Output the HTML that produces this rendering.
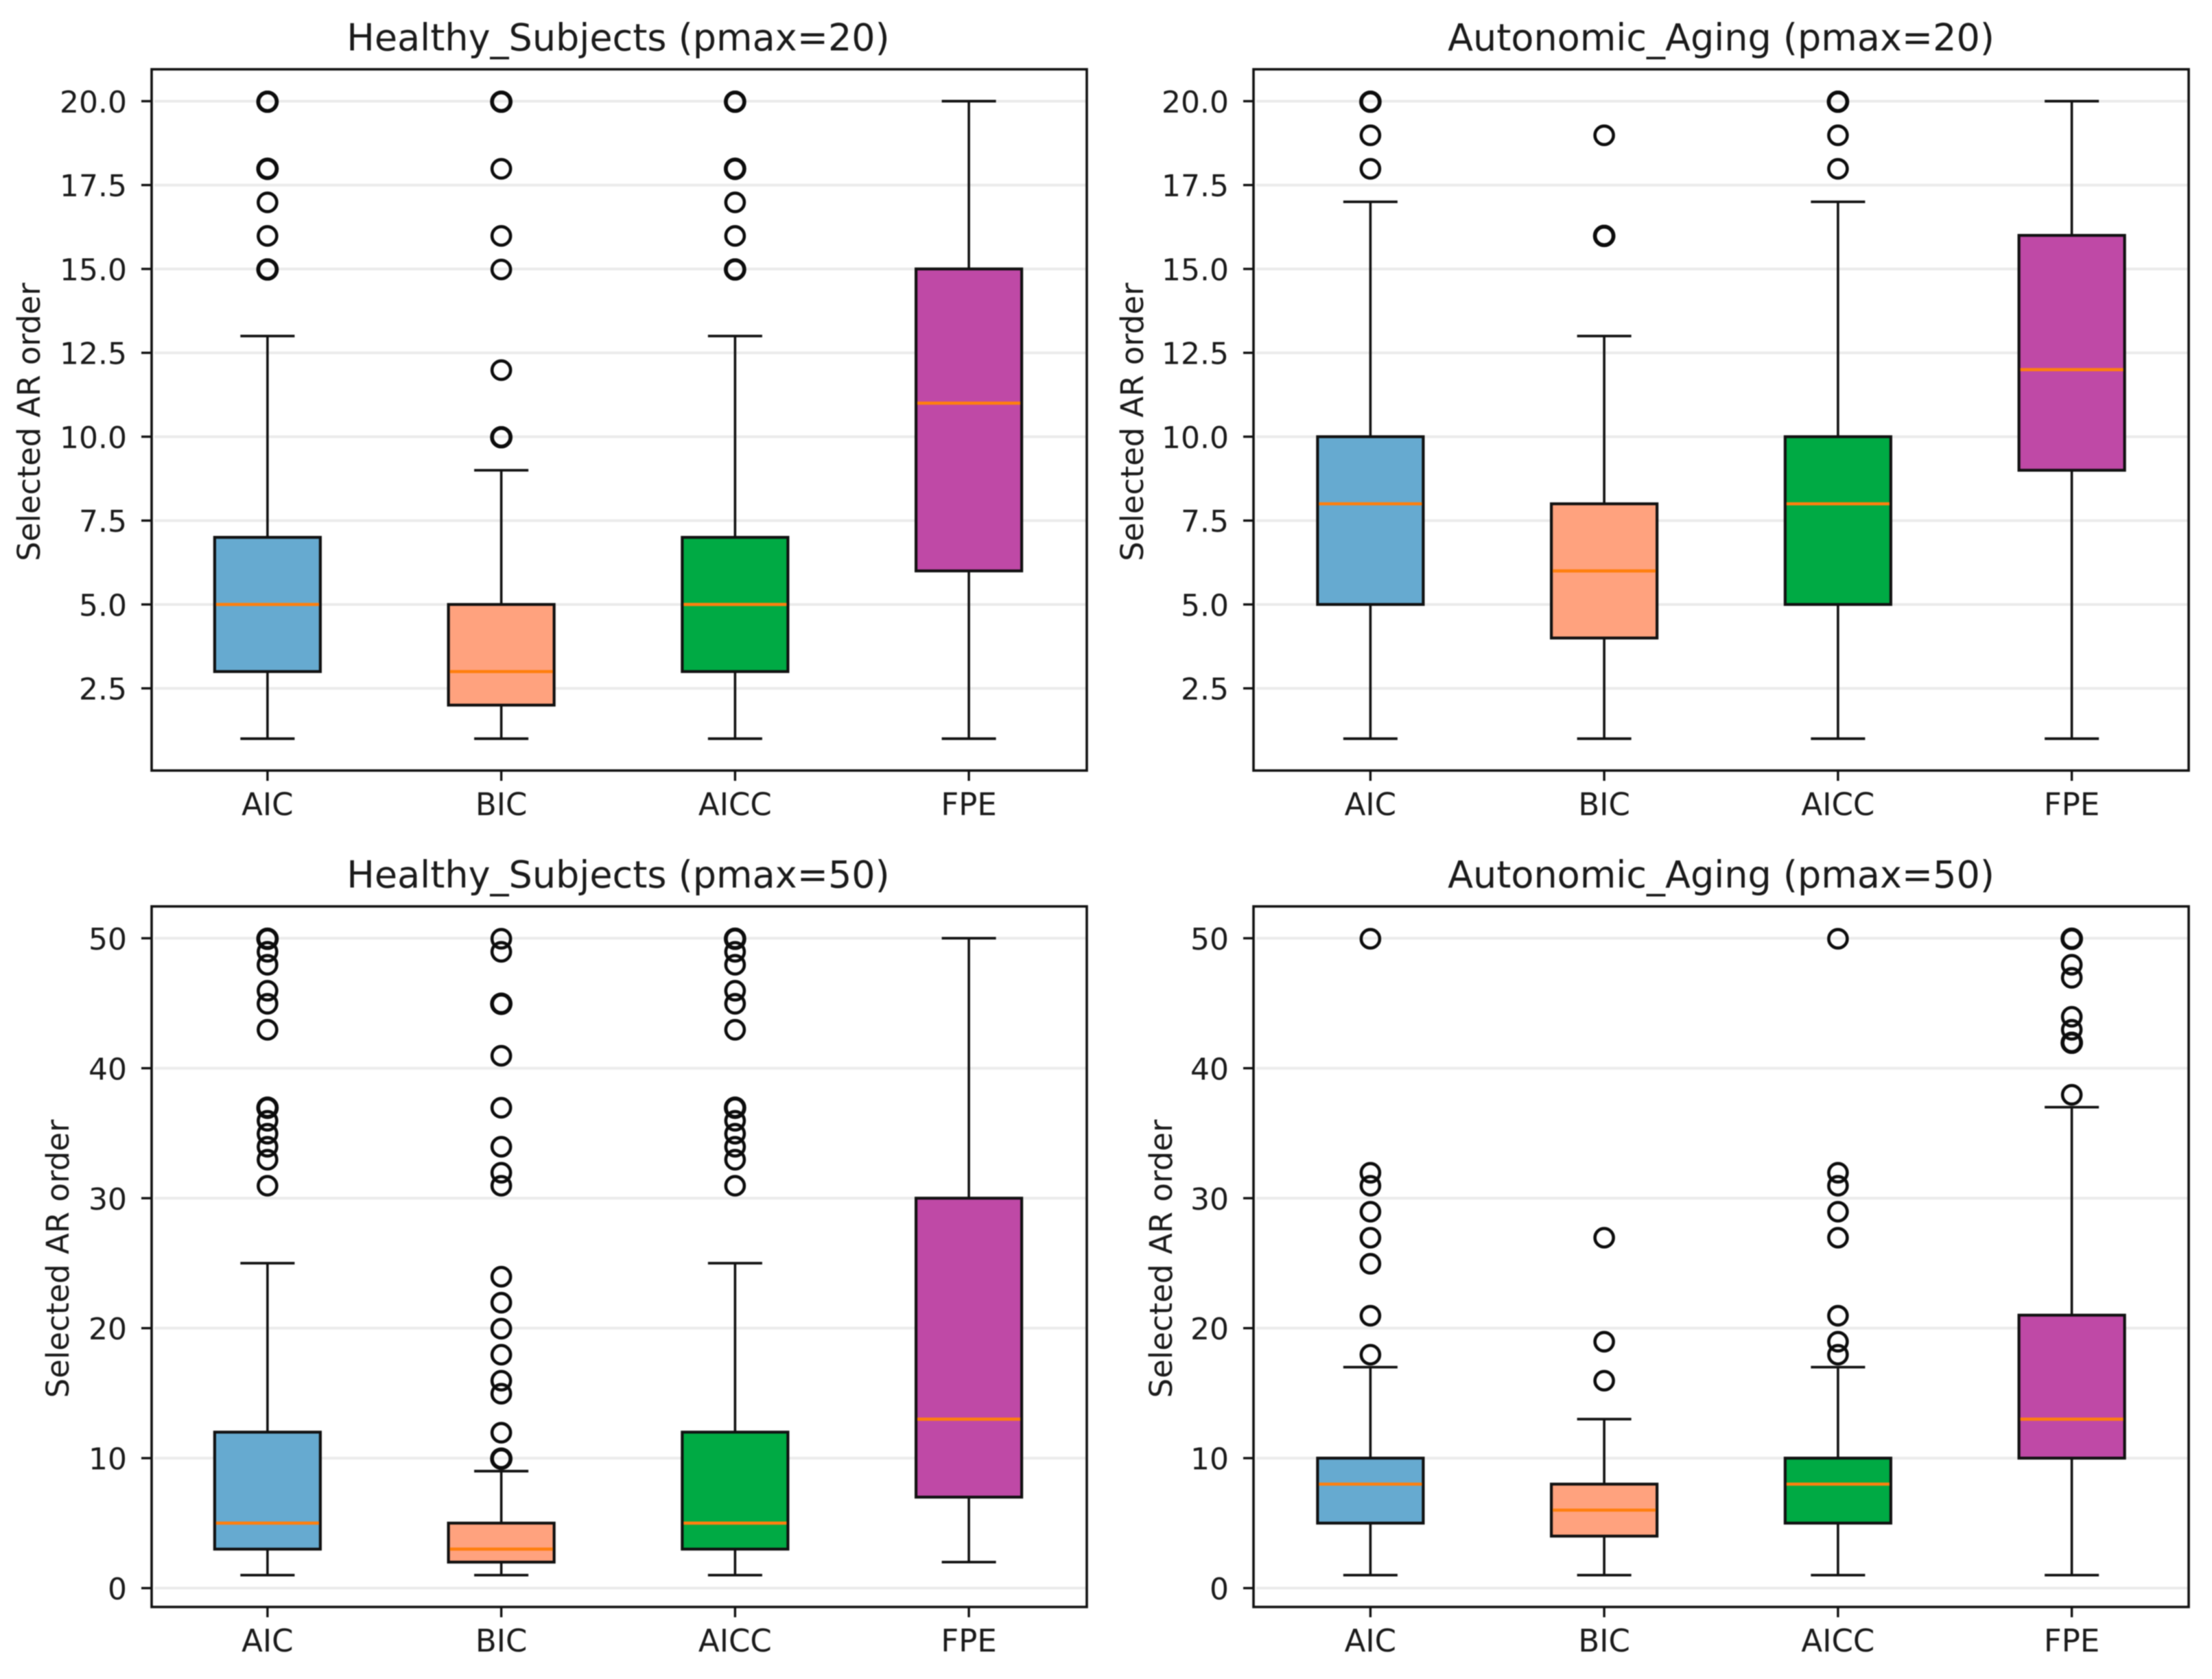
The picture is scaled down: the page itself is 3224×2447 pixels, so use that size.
<!DOCTYPE html>
<html lang="en">
<head>
<meta charset="utf-8">
<title>Selected AR order box plots</title>
<style>
html,body{margin:0;padding:0;background:#fff;}
svg{display:block;filter:blur(0.9px);}
text{font-family:"DejaVu Sans","Liberation Sans",sans-serif;fill:#1a1a1a;}
</style>
</head>
<body>
<svg id="chart" xmlns="http://www.w3.org/2000/svg" width="3224" height="2447" viewBox="0 0 3224 2447"></svg>
<script>
const categories = ['AIC', 'BIC', 'AICC', 'FPE'];
const boxColors = ['#66aad0', '#ffa27e', '#00aa44', '#bf49a6'];

const ticks20 = [2.5, 5, 7.5, 10, 12.5, 15, 17.5, 20];
const tickLabels20 = ['2.5', '5.0', '7.5', '10.0', '12.5', '15.0', '17.5', '20.0'];
const ticks50 = [0, 10, 20, 30, 40, 50];
const tickLabels50 = ['0', '10', '20', '30', '40', '50'];

const hs20Low = [1, 1, 1, 1];
const hs20Q1 = [3, 2, 3, 6];
const hs20Median = [5, 3, 5, 11];
const hs20Q3 = [7, 5, 7, 15];
const hs20High = [13, 9, 13, 20];
const hs20Fliers = [
  [15, 15, 16, 17, 18, 18, 20, 20],
  [10, 10, 12, 15, 16, 18, 20, 20],
  [15, 15, 16, 17, 18, 18, 20, 20],
  []
];

const aa20Low = [1, 1, 1, 1];
const aa20Q1 = [5, 4, 5, 9];
const aa20Median = [8, 6, 8, 12];
const aa20Q3 = [10, 8, 10, 16];
const aa20High = [17, 13, 17, 20];
const aa20Fliers = [
  [18, 19, 20, 20],
  [16, 16, 19],
  [18, 19, 20, 20],
  []
];

const hs50Low = [1, 1, 1, 2];
const hs50Q1 = [3, 2, 3, 7];
const hs50Median = [5, 3, 5, 13];
const hs50Q3 = [12, 5, 12, 30];
const hs50High = [25, 9, 25, 50];
const hs50Fliers = [
  [31, 33, 34, 35, 36, 37, 37, 43, 45, 46, 48, 49, 50, 50],
  [10, 10, 12, 15, 16, 18, 20, 22, 24, 31, 32, 34, 37, 41, 45, 45, 49, 50],
  [31, 33, 34, 35, 36, 37, 37, 43, 45, 46, 48, 49, 50, 50],
  []
];

const aa50Low = [1, 1, 1, 1];
const aa50Q1 = [5, 4, 5, 10];
const aa50Median = [8, 6, 8, 13];
const aa50Q3 = [10, 8, 10, 21];
const aa50High = [17, 13, 17, 37];
const aa50Fliers = [
  [18, 21, 25, 27, 29, 31, 32, 50],
  [16, 19, 27],
  [18, 19, 21, 27, 29, 31, 32, 50],
  [38, 42, 42, 43, 44, 47, 48, 50, 50]
];

const SVG_NS = 'http://www.w3.org/2000/svg';
const root = document.getElementById('chart');
const INK = '#111111';

function make(tag, parent, attrs) {
  const el = document.createElementNS(SVG_NS, tag);
  Object.keys(attrs).forEach(function (k) { el.setAttribute(k, attrs[k]); });
  parent.appendChild(el);
  return el;
}

function line(parent, name, x1, y1, x2, y2, color, width) {
  const el = make('line', parent, { x1: x1, y1: y1, x2: x2, y2: y2, stroke: color, 'stroke-width': width });
  
  
  return el;
}

function label(parent, name, content, x, y, size, anchor, rotate) {
  const el = make('text', parent, { x: x, y: y, 'font-size': size, 'text-anchor': anchor });
  if (rotate) el.setAttribute('transform', 'rotate(-90 ' + x + ' ' + y + ')');
  el.textContent = content;
  
  
  return el;
}

function drawPanel(p) {
  const g = make('g', root, {});
  
  

  const yScale = function (v) {
    return p.bottom - (v - p.domain[0]) / (p.domain[1] - p.domain[0]) * (p.bottom - p.top);
  };
  const xScale = function (i) {
    return p.left + (i + 0.5) / categories.length * (p.right - p.left) + p.shift;
  };
  const unit = (p.right - p.left) / categories.length;

  p.ticks.forEach(function (t, i) {
    const y = yScale(t);
    line(g, 'y-gridline-' + p.tickLabels[i], p.left + 4, y, p.right - 2, y, '#ebebeb', 4);
    line(g, 'y-tick-' + p.tickLabels[i], p.left - 15, y, p.left, y, INK, 3.4);
    label(g, 'y-tick-label-' + p.tickLabels[i], p.tickLabels[i], p.left - 36, y + 16.5, 44, 'end');
  });

  categories.forEach(function (cat, i) {
    const cx = xScale(i);
    const boxW = unit * 0.452;
    const capW = unit * 0.232;
    const key = cat.toLowerCase();

    line(g, key + '-lower-whisker', cx, yScale(p.q1[i]), cx, yScale(p.low[i]), INK, 3.6);
    line(g, key + '-upper-whisker', cx, yScale(p.q3[i]), cx, yScale(p.high[i]), INK, 3.6);
    line(g, key + '-lower-cap', cx - capW / 2, yScale(p.low[i]), cx + capW / 2, yScale(p.low[i]), INK, 3.8);
    line(g, key + '-upper-cap', cx - capW / 2, yScale(p.high[i]), cx + capW / 2, yScale(p.high[i]), INK, 3.8);

    const box = make('rect', g, {
      x: cx - boxW / 2,
      y: yScale(p.q3[i]),
      width: boxW,
      height: yScale(p.q1[i]) - yScale(p.q3[i]),
      fill: boxColors[i],
      stroke: INK,
      'stroke-width': 4.2
    });
    
    

    line(g, key + '-median', cx - boxW / 2 + 2, yScale(p.median[i]), cx + boxW / 2 - 2, yScale(p.median[i]), '#ff7f0e', 4.6);

    p.fliers[i].forEach(function (v) {
      const repeats = p.fliers[i].filter(function (o) { return o === v; }).length;
      const c = make('circle', g, { cx: cx, cy: yScale(v) + 0.8, r: 13.5, fill: 'none', stroke: '#0c0c0c', 'stroke-width': repeats > 1 ? 5.6 : 4.6 });
      
      
    });

    line(g, key + '-x-tick', cx, p.bottom, cx, p.bottom + 15, INK, 3.4);
    label(g, key + '-x-tick-label', cat, cx, p.bottom + 65, 45, 'middle');
  });

  const frame = make('rect', g, {
    x: p.left, y: p.top, width: p.right - p.left, height: p.bottom - p.top,
    fill: 'none', stroke: INK, 'stroke-width': 3.6
  });
  
  

  label(g, 'panel-title', p.title, (p.left + p.right) / 2 + p.shift, p.top - 27.5, 54, 'middle');
  label(g, 'y-axis-title', 'Selected AR order', p.ylabelX, (p.top + p.bottom) / 2 + 3, 45, 'middle', true);
}

drawPanel({
  id: 'healthy-subjects-pmax-20', title: 'Healthy_Subjects (pmax=20)', shift: -1.5,
  left: 221, right: 1584, top: 101, bottom: 1123, domain: [0.05, 20.95],
  ticks: ticks20, tickLabels: tickLabels20, ylabelX: 58,
  low: hs20Low, q1: hs20Q1, median: hs20Median, q3: hs20Q3, high: hs20High, fliers: hs20Fliers
});
drawPanel({
  id: 'autonomic-aging-pmax-20', title: 'Autonomic_Aging (pmax=20)', shift: 0,
  left: 1827, right: 3190, top: 101, bottom: 1123, domain: [0.05, 20.95],
  ticks: ticks20, tickLabels: tickLabels20, ylabelX: 1666,
  low: aa20Low, q1: aa20Q1, median: aa20Median, q3: aa20Q3, high: aa20High, fliers: aa20Fliers
});
drawPanel({
  id: 'healthy-subjects-pmax-50', title: 'Healthy_Subjects (pmax=50)', shift: -1.5,
  left: 221, right: 1584, top: 1321, bottom: 2342, domain: [-1.45, 52.45],
  ticks: ticks50, tickLabels: tickLabels50, ylabelX: 100,
  low: hs50Low, q1: hs50Q1, median: hs50Median, q3: hs50Q3, high: hs50High, fliers: hs50Fliers
});
drawPanel({
  id: 'autonomic-aging-pmax-50', title: 'Autonomic_Aging (pmax=50)', shift: 0,
  left: 1827, right: 3190, top: 1321, bottom: 2342, domain: [-1.45, 52.45],
  ticks: ticks50, tickLabels: tickLabels50, ylabelX: 1708,
  low: aa50Low, q1: aa50Q1, median: aa50Median, q3: aa50Q3, high: aa50High, fliers: aa50Fliers
});
</script>
</body>
</html>
